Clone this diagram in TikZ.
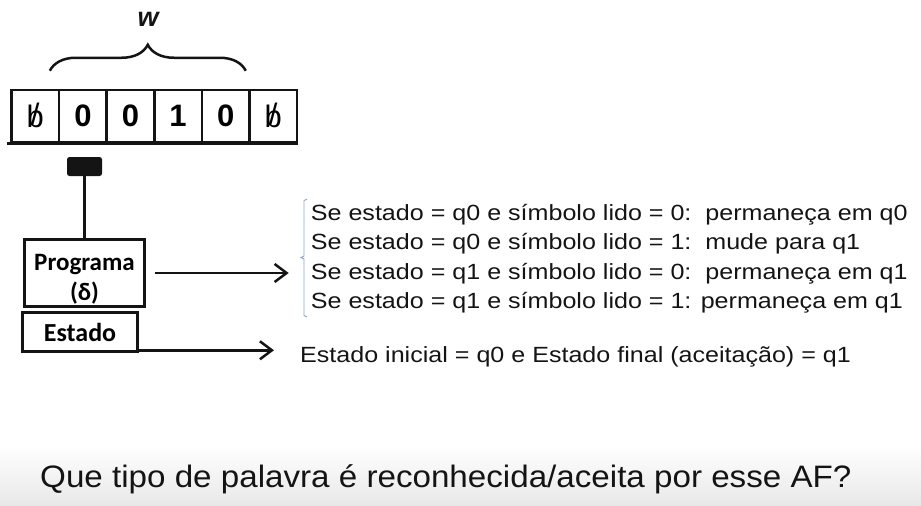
\documentclass[tikz,border=0pt]{standalone}
\usepackage{fontspec}
\setmainfont{Liberation Sans}
\newfontfamily\rulefont[FakeStretch=1.14]{Liberation Sans}
\newfontfamily\askfont[FakeStretch=1.07]{Liberation Sans}
\newfontfamily\boxfont{Carlito}
\usetikzlibrary{positioning}
\usetikzlibrary{arrows.meta}
\usetikzlibrary{calc}
\usetikzlibrary{decorations.pathreplacing}

\definecolor{ink}{RGB}{20,20,20}
\definecolor{brk}{RGB}{140,165,200}
\newcommand{\blnk}{{\mdseries\ooalign{b\cr\hidewidth\raisebox{2pt}{/}\hidewidth}}}

\tikzset{
	cell/.style={draw=ink, line width=2.5pt, minimum width=47.6pt, minimum height=52pt, inner sep=0pt,
		font=\fontsize{31}{31}\selectfont\bfseries},
	headbox/.style={fill=ink, rounded corners=2.5pt, minimum width=35pt, minimum height=19pt, inner sep=0pt},
	ctrl/.style={draw=ink, line width=3.5pt, inner sep=0pt, align=center,
		font=\boxfont\bfseries\fontsize{25}{30}\selectfont},
	rule/.style={anchor=base west, inner sep=0pt, text=ink, font=\rulefont\fontsize{22}{29}\selectfont},
	arw/.style={draw=ink, line width=2.5pt, -{Straight Barb[length=12pt,width=18pt]}}
}

\begin{document}
\begin{tikzpicture}[x=1pt, y=-1pt]
		\useasboundingbox (0,0) rectangle (921,506);
		\shade[top color=white, bottom color=black!9] (0,445) rectangle (921,506);

		% Define the tape
		\foreach \i/\sym in {0/\blnk, 1/0, 2/0, 3/1, 4/0, 5/\blnk}
		\node[cell] (c\i) at ({35.3+47.6*\i},116) {\sym};
		\draw[ink, line width=3.5pt] ([xshift=-3pt]c0.south west) -- (c5.south east);

		% Brace over the word
		\draw[ink, line width=2.5pt, decorate, decoration={brace, amplitude=26pt}]
			([xshift=-8pt,yshift=18pt]c1.north west) -- ([xshift=-5pt,yshift=18pt]c4.north east);
		\node[font=\bfseries\itshape\fontsize{27}{27}\selectfont, text=ink] (wlbl) at (148,19) {w};

		% Head and control unit
		\node[headbox] (head) at (84.5,166.5) {};
		\node[ctrl, minimum width=120pt, minimum height=67pt] (prog) at (84.5,273) {\rule{0pt}{29pt}Programa\\(δ)};
		\node[ctrl, minimum width=115pt, minimum height=39pt, font=\boxfont\bfseries\fontsize{26}{30}\selectfont]
			(estado) at (80,332) {Estado};
		\draw[ink, line width=3pt] (head) -- (prog);

		% Rules and states
		\node[rule] (r1) at (310.7,220.7) {Se estado = q0 e símbolo lido = 0:\ \ permaneça em q0};
		\node[rule] (r2) at (310.7,249.5) {Se estado = q0 e símbolo lido = 1:\ \ mude para q1};
		\node[rule] (r3) at (310.7,279) {Se estado = q1 e símbolo lido = 0:\ \ permaneça em q1};
		\node[rule] (r4) at (310.7,308) {Se estado = q1 e símbolo lido = 1: permaneça em q1};
		\node[rule] (init) at (300,362) {Estado inicial = q0 e Estado final (aceitação) = q1};
		\draw[brk, line width=0.9pt] (307,199) -- (304,200.5) -- (304,256) -- (301,257.5) -- (304,259) -- (304,315.5) -- (307,317);

		% Draw the arrows
		\draw[arw, shorten <=9pt, shorten >=22pt] (prog.east) -- (prog.east -| r3.west);
		\draw[arw, shorten >=26pt] ([yshift=3pt]estado.south east) -- ([yshift=3pt]estado.south east -| init.west);

		\node[anchor=base west, inner sep=0pt, text=ink, font=\askfont\fontsize{31}{31}\selectfont] (ask) at (40,487)
			{Que tipo de palavra é reconhecida/aceita por esse AF?};
\end{tikzpicture}
\end{document}
